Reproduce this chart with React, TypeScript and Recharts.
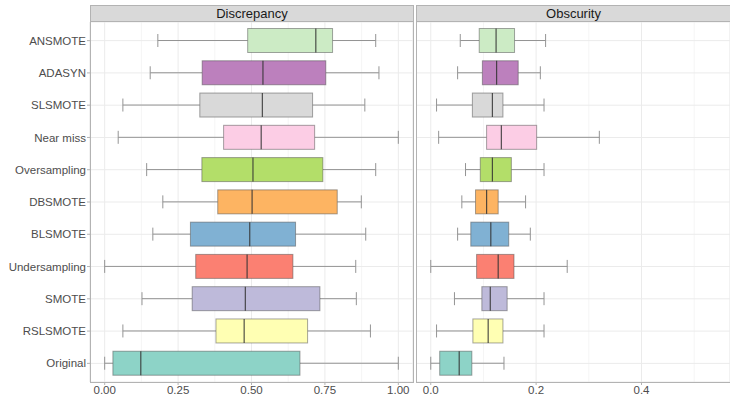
import { ComposedChart, Bar, XAxis, YAxis, CartesianGrid } from 'recharts';

// top to bottom as drawn
const methods = ['ANSMOTE', 'ADASYN', 'SLSMOTE', 'Near miss', 'Oversampling', 'DBSMOTE', 'BLSMOTE', 'Undersampling', 'SMOTE', 'RSLSMOTE', 'Original'];
const colors = ['#CCEBC5', '#BC80BD', '#D9D9D9', '#FCCDE5', '#B3DE69', '#FDB462', '#80B1D3', '#FB8072', '#BEBADA', '#FFFFB3', '#8DD3C7'];

// [lower whisker, q1, median, q3, upper whisker]
const discrepancy = [
  [0.181, 0.487, 0.719, 0.776, 0.923],
  [0.155, 0.332, 0.539, 0.753, 0.934],
  [0.062, 0.324, 0.537, 0.708, 0.886],
  [0.046, 0.405, 0.533, 0.715, 1.0],
  [0.143, 0.331, 0.505, 0.743, 0.923],
  [0.198, 0.385, 0.502, 0.792, 0.874],
  [0.164, 0.292, 0.494, 0.65, 0.889],
  [0.0, 0.31, 0.485, 0.641, 0.855],
  [0.127, 0.298, 0.479, 0.733, 0.857],
  [0.062, 0.379, 0.475, 0.691, 0.905],
  [0.0, 0.028, 0.123, 0.665, 1.0],
];
const obscurity = [
  [0.056, 0.092, 0.124, 0.159, 0.218],
  [0.051, 0.098, 0.125, 0.166, 0.208],
  [0.011, 0.079, 0.117, 0.137, 0.215],
  [0.015, 0.106, 0.134, 0.201, 0.32],
  [0.066, 0.094, 0.117, 0.153, 0.215],
  [0.059, 0.085, 0.106, 0.128, 0.18],
  [0.051, 0.076, 0.114, 0.148, 0.189],
  [0.0, 0.087, 0.128, 0.158, 0.259],
  [0.045, 0.097, 0.113, 0.145, 0.215],
  [0.011, 0.08, 0.109, 0.137, 0.215],
  [0.0, 0.017, 0.054, 0.078, 0.139],
];

const discTicks = [0, 0.25, 0.5, 0.75, 1];
const discMinor = [0.125, 0.375, 0.625, 0.875];
const obscTicks = [0, 0.2, 0.4];
const obscMinor = [0.1, 0.3, 0.5];

const FONT = '"Liberation Sans", Arial, sans-serif';
const BORDER = '#b3b3b3';

const rows = (stats: number[][]) =>
  methods.map((name, i) => ({
    name,
    color: colors[i],
    stats: stats[i],
    range: [stats[i][0], stats[i][4]],
  }));

const BoxShape = (props: any) => {
  const { x, y, width, height, payload } = props;
  const [lo, q1, med, q3, hi] = payload.stats;
  const px = (v: number) => x + ((v - lo) / (hi - lo)) * width;
  const cy = y + height / 2;
  const cap = 6.5;
  const wc = '#949494';
  return (
    <g>
      <line x1={px(lo)} x2={px(q1)} y1={cy} y2={cy} stroke={wc} />
      <line x1={px(q3)} x2={px(hi)} y1={cy} y2={cy} stroke={wc} />
      <line x1={px(lo)} x2={px(lo)} y1={cy - cap} y2={cy + cap} stroke={wc} />
      <line x1={px(hi)} x2={px(hi)} y1={cy - cap} y2={cy + cap} stroke={wc} />
      <rect x={px(q1)} y={y} width={px(q3) - px(q1)} height={height} fill={payload.color} stroke="#4d4d4d" strokeOpacity={0.5} />
      <line x1={px(med)} x2={px(med)} y1={y} y2={y + height} stroke="#333" strokeOpacity={0.85} strokeWidth={1.2} />
    </g>
  );
};

function Panel(props: { data: any[]; width: number; domain: number[]; ticks: number[]; minor: number[]; digits: number; showY: boolean }) {
  const { data, width, domain, ticks, minor, digits, showY } = props;
  return (
    <ComposedChart layout="vertical" width={width} height={398} data={data} margin={{ top: 22, right: showY ? 3 : 0, bottom: 0, left: 0 }}>
      <CartesianGrid xAxisId="minor" horizontal={false} stroke="#f5f5f5" />
      <CartesianGrid stroke="#ebebeb" />
      <XAxis xAxisId="minor" type="number" domain={domain} ticks={minor} allowDataOverflow hide />
      <XAxis
        type="number"
        domain={domain}
        ticks={ticks}
        allowDataOverflow
        height={16}
        tickFormatter={(v: number) => v.toFixed(digits)}
        tick={{ fill: '#4d4d4d', fontSize: 11.5, fontFamily: FONT }}
        tickSize={3}
        tickMargin={1}
        axisLine={false}
        tickLine={{ stroke: BORDER }}
      />
      <YAxis
        type="category"
        dataKey="name"
        width={showY ? 90 : 0}
        hide={!showY}
        padding={{ top: 2.5, bottom: 2.5 }}
        tick={{ fill: '#4d4d4d', fontSize: 11.5, fontFamily: FONT }}
        tickSize={3}
        tickMargin={1}
        axisLine={false}
        tickLine={{ stroke: BORDER }}
        interval={0}
      />
      <Bar dataKey="range" barSize={24} shape={BoxShape} isAnimationActive={false} />
    </ComposedChart>
  );
}

const strip = (left: number, width: number, label: string) => (
  <div
    style={{
      position: 'absolute',
      left,
      top: 5,
      width,
      height: 17,
      boxSizing: 'border-box',
      background: '#d9d9d9',
      border: `1px solid ${BORDER}`,
      fontFamily: FONT,
      fontSize: 13,
      color: '#1a1a1a',
      textAlign: 'center',
      lineHeight: '15px',
    }}
  >
    {label}
  </div>
);

const frame = (left: number, width: number) => (
  <div
    style={{
      position: 'absolute',
      left,
      top: 21,
      width,
      height: 362,
      boxSizing: 'border-box',
      border: `1px solid ${BORDER}`,
      pointerEvents: 'none',
    }}
  />
);

export default function App() {
  return (
    <div style={{ position: 'absolute', left: 0, top: 0, width: 730, height: 398, background: '#fff', overflow: 'hidden' }}>
      <div style={{ position: 'absolute', left: 0, top: 0 }}>
        <Panel data={rows(discrepancy)} width={416} domain={[-0.05, 1.05]} ticks={discTicks} minor={discMinor} digits={2} showY />
      </div>
      <div style={{ position: 'absolute', left: 416, top: 0 }}>
        <Panel data={rows(obscurity)} width={314} domain={[-0.028, 0.568]} ticks={obscTicks} minor={obscMinor} digits={1} showY={false} />
      </div>
      {frame(90, 324)}
      {frame(416, 315)}
      {strip(90, 324, 'Discrepancy')}
      {strip(416, 315, 'Obscurity')}
    </div>
  );
}
